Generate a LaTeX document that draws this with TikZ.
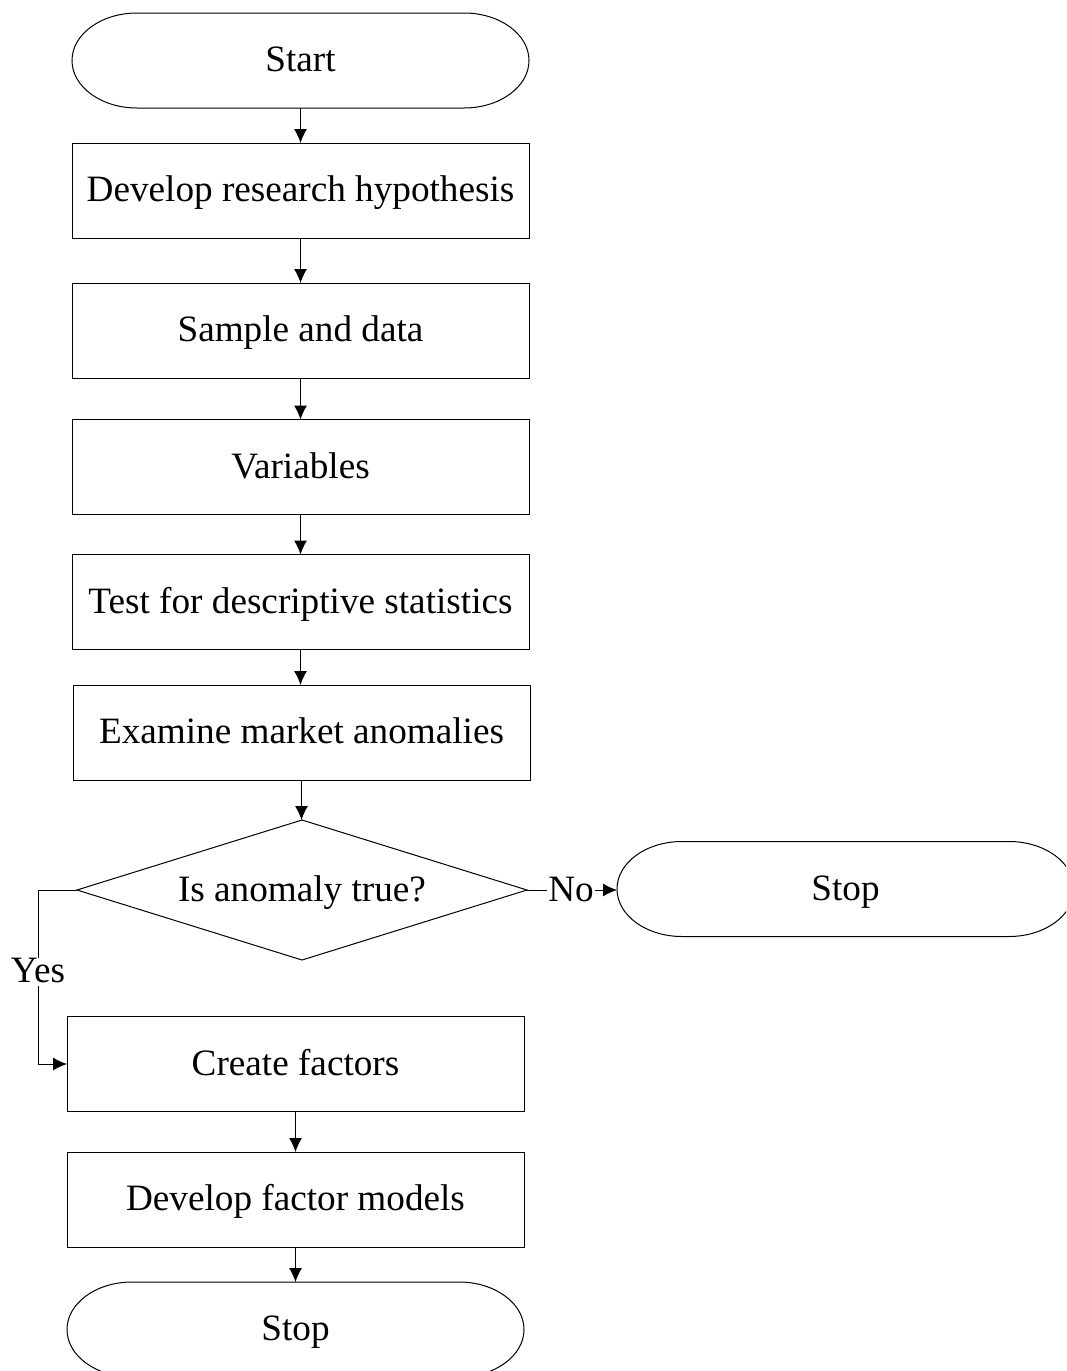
\documentclass[tikz,border=0pt]{standalone}
\usepackage{fontspec}
\setmainfont{Liberation Serif}
\usetikzlibrary{shapes.geometric,arrows.meta,calc}

% outline of a terminal (stadium with elliptical ends) around a named node
\newcommand\termoutline[1]{%
  \draw[line width=0.5pt]
    ([xshift=32.5pt]#1.north west) -- ([xshift=-32.5pt]#1.north east)
    arc[start angle=90,end angle=-90,x radius=32.5pt,y radius=23.75pt]
    -- ([xshift=32.5pt]#1.south west)
    arc[start angle=270,end angle=90,x radius=32.5pt,y radius=23.75pt]
    -- cycle;}

\begin{document}
\begin{tikzpicture}[x=0.5pt,y=-0.5pt,
  every node/.style={font=\fontsize{18.6pt}{22pt}\selectfont,text height=12pt,text depth=1pt},
  term/.style={rectangle,inner sep=0pt,outer sep=0pt,minimum width=228.5pt,minimum height=47.5pt},
  proc/.style={rectangle,draw,line width=0.5pt,inner sep=0pt,outer sep=0pt,minimum width=228.5pt,minimum height=47.5pt},
  decision/.style={diamond,draw,line width=0.5pt,aspect=3.214,inner sep=0pt,outer sep=0pt,minimum width=225pt,minimum height=70pt},
  arr/.style={line width=0.5pt,-{Latex[length=7pt,width=6.5pt]}},
  lbl/.style={fill=white,inner sep=0.5pt}]
\useasboundingbox (0,0) rectangle (1066,1371);
\clip (0,0) rectangle (1066,1371);

\node[term] (start) at (300.5,60.5) {Start};
\termoutline{start}
\node[proc] (hyp) at (300.5,190.5) {Develop research hypothesis};
\node[proc] (sample) at (300.5,330.5) {Sample and data};
\node[proc] (vars) at (300.5,467) {Variables};
\node[proc] (desc) at (300.5,602) {Test for descriptive statistics};
\node[proc] (exam) at (301.5,732.5) {Examine market anomalies};
\node[decision] (dec) at (302,890) {Is anomaly true?};
\node[term] (stopR) at (845.5,889) {Stop};
\termoutline{stopR}
\node[proc] (create) at (295.5,1064) {Create factors};
\node[proc] (models) at (295.5,1199.5) {Develop factor models};
\node[term] (stopB) at (295.5,1329.5) {Stop};
\termoutline{stopB}

\coordinate (yesx) at (38,0);

\draw[arr] (start.south) -- (hyp.north);
\draw[arr] (hyp.south) -- (sample.north);
\draw[arr] (sample.south) -- (vars.north);
\draw[arr] (vars.south) -- (desc.north);
\draw[arr] (desc.south) -- (desc.south |- exam.north);
\draw[arr] (exam.south) -- (exam.south |- dec.north);
\draw[arr] (dec.east) -- node[lbl,pos=0.49]{No} (dec.east -| stopR.west);
\draw[arr] (dec.west) -- (dec.west -| yesx) -- node[lbl,pos=0.47]{Yes} (create.west -| yesx) -- (create.west);
\draw[arr] (create.south) -- (models.north);
\draw[arr] (models.south) -- (stopB.north);
\end{tikzpicture}
\end{document}
